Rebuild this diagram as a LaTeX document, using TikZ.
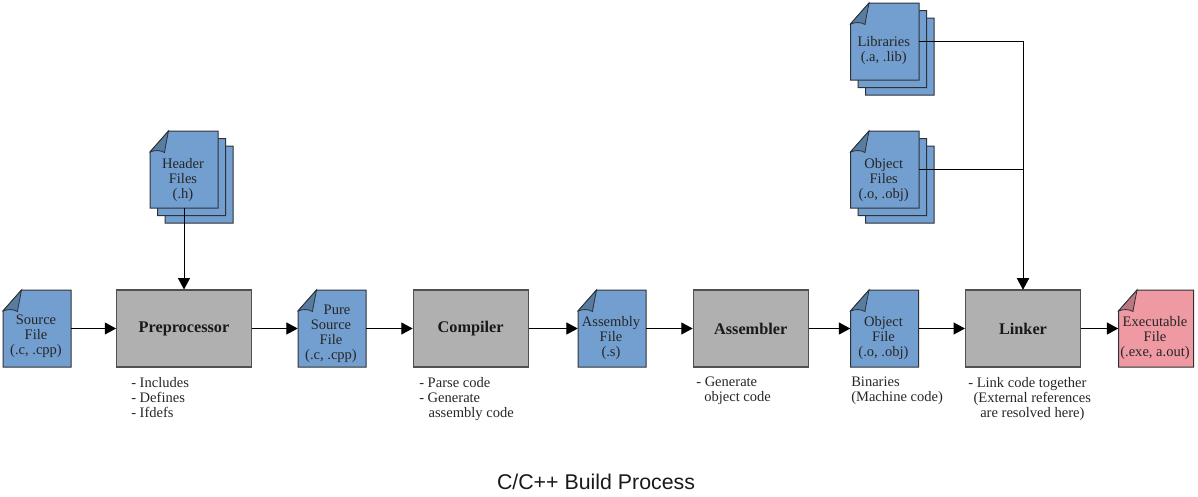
\documentclass[tikz,border=0pt]{standalone}
\usepackage{fontspec}
\setmainfont{Liberation Serif}
\newfontfamily\titlefont{Liberation Sans}
\usetikzlibrary{arrows.meta,positioning}
\definecolor{docblue}{RGB}{114,159,207}
\definecolor{docpink}{RGB}{239,153,163}
\definecolor{stepgray}{RGB}{176,176,176}
\definecolor{edgegray}{RGB}{45,50,55}
\tikzset{
  docedge/.style={draw=edgegray, line width=0.75pt, line join=miter},
  docbody/.style={inner sep=0pt, minimum height=57.75pt},
  doclabel/.style={font=\fontsize{10.9}{11.25}\selectfont, align=center, inner sep=0pt, text=black!85},
  stepbox/.style={draw=edgegray!85, line width=0.85pt, fill=stepgray, minimum height=57.75pt,
    inner sep=0pt, font=\fontsize{12.2}{14}\selectfont\bfseries, text=black!90},
  stepnote/.style={font=\fontsize{10.9}{11.25}\selectfont, align=left, anchor=north west, inner sep=0pt, text=black!85},
  flowline/.style={draw=black, line width=0.75pt, -{Triangle[length=8.5pt,width=9pt]}},
}
% name, left, top, width, colour, text drop, text
\newcommand{\docpage}[7]{
  \begin{scope}[shift={(#2,#3)}]
    \fill[#5, docedge] (0,21) -- (18.5,0) -- (#4,0) -- (#4,77) -- (0,77) -- cycle;
    \fill[#5!78!black, docedge, line width=0.6pt] (0,21) -- (18.5,0)
      .. controls (17,8) and (15.5,15) .. (14.5,21.5)
      .. controls (10,19) and (5,19) .. (0,21) -- cycle;
    \node[docbody, minimum width=#4*0.75pt] (#1) at ({#4/2},38.5) {};
    \node[doclabel] (#1text) at ({#4/2-1},{39.5+#6}) {#7};
  \end{scope}
}
% two pages behind the front one
\newcommand{\docstack}[7]{
  \foreach \off in {15,7.5} {
    \begin{scope}[shift={({#2+\off},{#3+\off})}]
      \fill[#5, docedge] (0,21) -- (18.5,0) -- (#4,0) -- (#4,77) -- (0,77) -- cycle;
    \end{scope}
  }
  \docpage{#1}{#2}{#3}{#4}{#5}{#6}{#7}
}
\begin{document}
\begin{tikzpicture}[x=0.75pt, y=-0.75pt]
\useasboundingbox (0,0) rectangle (1198,496);
% Stacks of input files
\docstack{headers}{150}{131}{68}{docblue}{9.5}{Header\\Files\\(.h)}
\docstack{libs}{850.5}{3}{68.5}{docblue}{8}{Libraries\\(.a, .lib)}
\docstack{objects}{850.5}{131}{68.5}{docblue}{9.5}{Object\\Files\\(.o, .obj)}
% Files along the main row
\docpage{source}{3}{290}{68}{docblue}{7}{Source\\File\\(.c, .cpp)}
\docpage{pure}{298}{290}{68}{docblue}{4}{\hspace*{9pt}Pure\\Source\\File\\(.c, .cpp)}
\docpage{assembly}{578}{290}{68}{docblue}{8.5}{Assembly\\File\\(.s)}
\docpage{object}{850.5}{290}{68}{docblue}{8.5}{Object\\File\\(.o, .obj)}
\docpage{exec}{1118.5}{290}{75}{docpink}{8.5}{Executable\\File\\(.exe, a.out)}
% Build steps
\node[stepbox, minimum width=101pt] (preproc) at (184,328.5) {Preprocessor};
\node[stepbox, minimum width=86.25pt] (compiler) at (470.7,328.5) {Compiler};
\node[stepbox, minimum width=86.25pt] (assembler) at (750.7,328.5) {Assembler};
\node[stepbox, minimum width=86.25pt] (linker) at (1023,328.5) {Linker};
% Notes under the row
\node[stepnote] (prenote) at (131,377) {- Includes\\- Defines\\- Ifdefs};
\node[stepnote] (compnote) at (419,377) {- Parse code\\- Generate\\\hspace*{7pt}assembly code};
\node[stepnote] (asmnote) at (696,377) {- Generate\\\hspace*{6pt}object code};
\node[stepnote] (binnote) at (851,377) {Binaries\\(Machine code)};
\node[stepnote] (linknote) at (968,377) {- Link code together\\\hspace*{4pt}(External references\\\hspace*{9pt}are resolved here)};
% Connectors
\draw[flowline] (source) -- (preproc);
\draw[flowline] (preproc) -- (pure);
\draw[flowline] (pure) -- (compiler);
\draw[flowline] (compiler) -- (assembly);
\draw[flowline] (assembly) -- (assembler);
\draw[flowline] (assembler) -- (object);
\draw[flowline] (object) -- (linker);
\draw[flowline] (linker) -- (exec);
\draw[flowline] (headers) -- (preproc);
\draw[flowline] (libs.east) -| (linker.north);
\draw[flowline] (objects.east) -| (linker.north);
% Title
\node[font=\titlefont\fontsize{16}{18}\selectfont, text=black!90] (title) at (596,482) {C/C++ Build Process};
\end{tikzpicture}
\end{document}
